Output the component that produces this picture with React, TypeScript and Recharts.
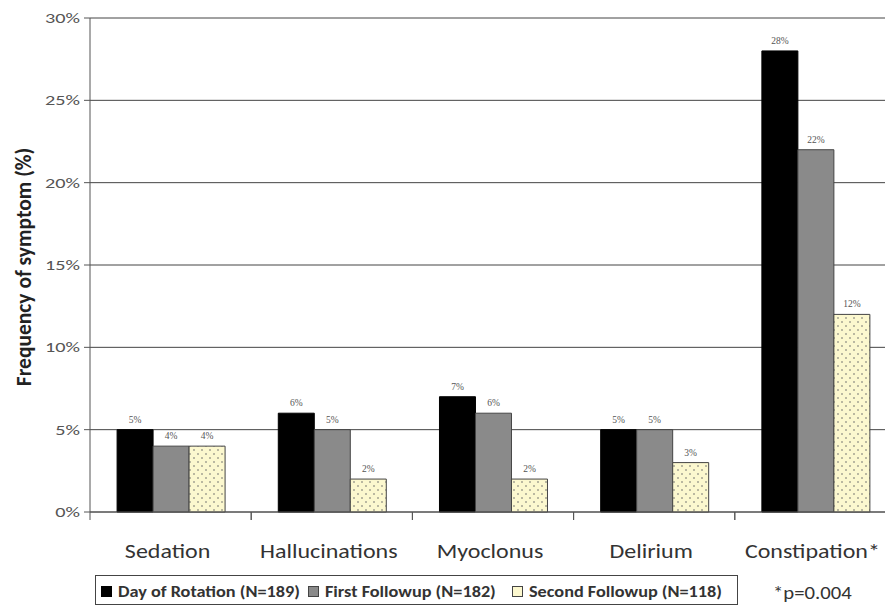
import { Bar, BarChart, CartesianGrid, LabelList, XAxis, YAxis } from "recharts";

const categories = ["Sedation", "Hallucinations", "Myoclonus", "Delirium", "Constipation*"];
const dayOfRotation = [5, 6, 7, 5, 28];
const firstFollowup = [4, 5, 6, 5, 22];
const secondFollowup = [4, 2, 2, 3, 12];
const yTicks = [0, 5, 10, 15, 20, 25, 30];

const seriesNames = ["Day of Rotation (N=189)", "First Followup (N=182)", "Second Followup (N=118)"];

const rows = categories.map((name, i) => ({
  name,
  day: dayOfRotation[i],
  first: firstFollowup[i],
  second: secondFollowup[i],
}));

// the source picture is stretched sideways, so text gets a small horizontal scale
const FONT = "Calibri, Carlito, Lato, 'Open Sans', sans-serif";
const STRETCH = 1.2;

function CategoryTick(props: any) {
  const { x, y, payload } = props;
  const off = payload?.offset ?? 0;
  return (
    <g>
      <line x1={x - off} x2={x - off} y1={y - 8} y2={y} stroke="#555" />
      <line x1={x + off} x2={x + off} y1={y - 8} y2={y} stroke="#555" />
      <text
        transform={`translate(${x - 3},${y + 38}) scale(${STRETCH},1)`}
        textAnchor="middle"
        fontSize={20}
        fill="#333"
        fontFamily={FONT}
      >
        {payload.value}
      </text>
    </g>
  );
}

function ValueTick(props: any) {
  const { x, y, payload } = props;
  return (
    <text
      transform={`translate(${x - 2},${y + 5}) scale(1.35,1)`}
      textAnchor="end"
      fontSize={15}
      fill="#555"
      fontFamily={FONT}
    >
      {`${payload.value}%`}
    </text>
  );
}

const swatches = [
  { fill: "#000", stroke: "#000" },
  { fill: "#8a8a8a", stroke: "#444" },
  { fill: "#fcf8cf", stroke: "#444" },
];
const legendLeft = [101, 308, 512];

function LegendBox() {
  return (
    <div style={{ position: "absolute", left: 0, top: 0, fontFamily: FONT }}>
      <div
        style={{
          position: "absolute",
          left: 95,
          top: 575,
          width: 643,
          height: 30,
          border: "1px solid #444",
          boxSizing: "border-box",
        }}
      />
      {seriesNames.map((n, i) => (
        <div key={n} style={{ position: "absolute", left: legendLeft[i], top: 583, display: "flex", alignItems: "center" }}>
          <span
            style={{
              display: "inline-block",
              width: 9,
              height: 9,
              background: swatches[i].fill,
              border: `1px solid ${swatches[i].stroke}`,
            }}
          />
          <span
            style={{
              marginLeft: 6,
              fontSize: 16,
              fontWeight: 700,
              color: "#333",
              lineHeight: "17px",
              whiteSpace: "nowrap",
              transform: "scaleX(1.14)",
              transformOrigin: "left center",
              display: "inline-block",
            }}
          >
            {n}
          </span>
        </div>
      ))}
      <span
        style={{
          position: "absolute",
          left: 773,
          top: 584,
          fontSize: 18,
          color: "#333",
          lineHeight: "18px",
          whiteSpace: "nowrap",
          transform: "scaleX(1.15)",
          transformOrigin: "left center",
          display: "inline-block",
        }}
      >
        *p=0.004
      </span>
    </div>
  );
}

function AxisTitle() {
  return (
    <svg width={60} height={605} style={{ position: "absolute", left: 0, top: 0, pointerEvents: "none" }}>
      <text
        transform="translate(31,267) rotate(-90)"
        textAnchor="middle"
        fontSize={21.5}
        fontWeight={700}
        fill="#222"
        fontFamily={FONT}
      >
        Frequency of symptom (%)
      </text>
    </svg>
  );
}

const fmt = (v: any) => `${v}%`;

export default function App() {
  return (
    <div style={{ position: "absolute", left: 0, top: 0, width: 885, height: 605, overflow: "hidden", background: "#fff" }}>
      <BarChart
        width={900}
        height={605}
        data={rows}
        margin={{ top: 18, right: 4, bottom: 43, left: 30 }}
        barCategoryGap="16.8%"
        barGap={0}
      >
        <defs>
          <pattern id="dots" width="8" height="8" patternUnits="userSpaceOnUse">
            <rect width="8" height="8" fill="#fcf8cf" />
            <circle cx="2" cy="2" r="0.8" fill="#666" />
            <circle cx="6" cy="6" r="0.8" fill="#666" />
          </pattern>
        </defs>
        <CartesianGrid vertical={false} stroke="#444" />
        <XAxis
          dataKey="name"
          tick={<CategoryTick />}
          tickLine={false}
          axisLine={{ stroke: "#555" }}
          height={50}
          interval={0}
        />
        <YAxis
          domain={[0, 30]}
          ticks={yTicks}
          tick={<ValueTick />}
          tickLine={{ stroke: "#555" }}
          axisLine={{ stroke: "#555" }}
          width={60}
        />
        <Bar dataKey="day" fill="#000" stroke="#000" isAnimationActive={false}>
          <LabelList dataKey="day" position="top" offset={7} formatter={fmt} fontSize={9.5} style={{ fill: "#555" }} />
        </Bar>
        <Bar dataKey="first" fill="#8a8a8a" stroke="#444" isAnimationActive={false}>
          <LabelList dataKey="first" position="top" offset={7} formatter={fmt} fontSize={9.5} style={{ fill: "#555" }} />
        </Bar>
        <Bar dataKey="second" fill="url(#dots)" stroke="#444" isAnimationActive={false}>
          <LabelList dataKey="second" position="top" offset={7} formatter={fmt} fontSize={9.5} style={{ fill: "#555" }} />
        </Bar>
      </BarChart>
      <AxisTitle />
      <LegendBox />
    </div>
  );
}
